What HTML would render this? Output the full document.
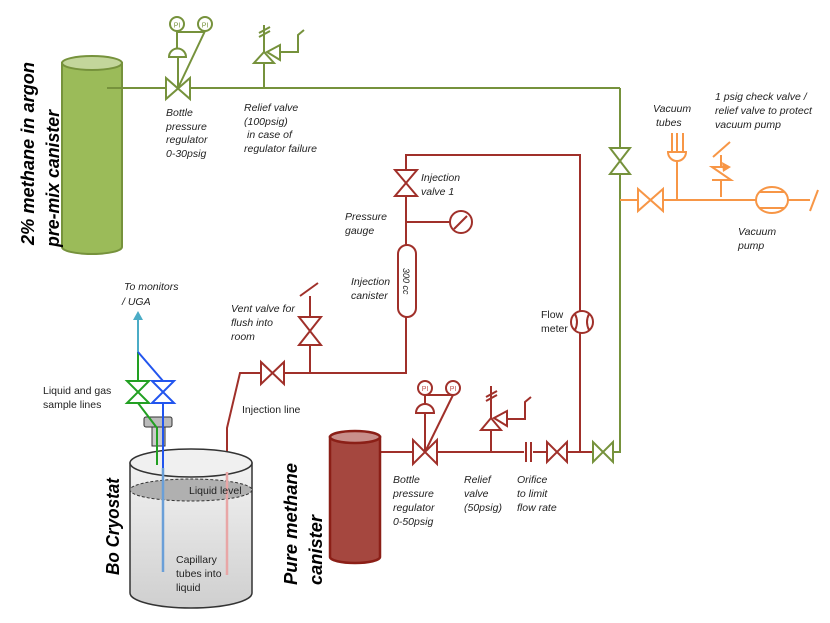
<!DOCTYPE html>
<html><head><meta charset="utf-8"><style>
html,body{margin:0;padding:0;background:#fff;}
svg{display:block;}
text{font-family:"Liberation Sans",sans-serif;font-size:10.5px;fill:#222;}
.i{font-style:italic;}
.t{font-weight:bold;font-style:italic;font-size:18px;fill:#000;}
</style></head><body>
<svg width="830" height="623" viewBox="0 0 830 623" xmlns="http://www.w3.org/2000/svg">
<defs>
<linearGradient id="cg" x1="0" y1="0" x2="0" y2="1"><stop offset="0" stop-color="#f2f2f2"/><stop offset="1" stop-color="#cfcfcf"/></linearGradient>
</defs>
<!-- GREEN SYSTEM -->
<g stroke="#76923c" stroke-width="2" fill="none">
<line x1="107" y1="88" x2="620" y2="88"/>
<line x1="620" y1="88" x2="620" y2="445"/>
<path d="M166,78 L166,99 L190,78 L190,99 Z" fill="#fff"/>
<line x1="178" y1="88" x2="178" y2="57"/>
<path d="M169,57 A8,8 0 0 1 186,57 Z" fill="#fff"/>
<line x1="177" y1="49" x2="177" y2="31"/>
<line x1="177" y1="32" x2="205" y2="32"/>
<line x1="205" y1="31" x2="178" y2="88"/>
<circle cx="177" cy="24" r="7" fill="#fff"/><circle cx="205" cy="24" r="7" fill="#fff"/>
<line x1="264" y1="88" x2="264" y2="63"/>
<path d="M254,63 L274,63 L264,52 Z" fill="#fff"/>
<path d="M267,52 L280,45 L280,60 Z" fill="#fff"/>
<polyline points="280,52 298,52 298,35 304,30"/>
<line x1="264" y1="52" x2="264" y2="25"/>
<line x1="259" y1="33" x2="270" y2="27"/><line x1="259" y1="37" x2="270" y2="31"/>
<path d="M610,148 L630,148 L610,174 L630,174 Z" fill="#fff"/>
</g>
<!-- green canister -->
<path d="M62,63 L62,247 A30,7 0 0 0 122,247 L122,63 Z" fill="#9bbb59" stroke="#76923c" stroke-width="2"/>
<ellipse cx="92" cy="63" rx="30" ry="7" fill="#c3d69b" stroke="#76923c" stroke-width="2"/>
<line x1="107" y1="88" x2="122" y2="88" stroke="#76923c" stroke-width="2"/>
<text x="177" y="27.5" text-anchor="middle" style="font-size:7px;fill:#76923c">PI</text>
<text x="205" y="27.5" text-anchor="middle" style="font-size:7px;fill:#76923c">PI</text>

<!-- ORANGE -->
<g stroke="#f79646" stroke-width="2" fill="none">
<line x1="620" y1="200" x2="810" y2="200"/>
<path d="M638,189 L638,211 L663,189 L663,211 Z" fill="#fff"/>
<line x1="677" y1="200" x2="677" y2="161"/>
<path d="M668,152 A9,9 0 0 0 686,152 Z" fill="#fff"/>
<line x1="672" y1="152" x2="672" y2="133"/><line x1="677" y1="152" x2="677" y2="133"/><line x1="683" y1="152" x2="683" y2="133"/>
<line x1="721" y1="197" x2="721" y2="180"/>
<polyline points="712,180 731,180 712,167 729,167"/>
<line x1="721" y1="167" x2="721" y2="155"/>
<line x1="713" y1="157" x2="730" y2="142"/>
<ellipse cx="772" cy="200" rx="16" ry="13" fill="#fff"/>
<line x1="760" y1="192" x2="784" y2="192"/><line x1="760" y1="208" x2="784" y2="208"/>
<line x1="810" y1="211" x2="818" y2="190"/>
</g>
<path d="M722,162 L731,167 L723,172 Z" fill="#f79646"/>

<!-- RED -->
<g stroke="#a0302a" stroke-width="2" fill="none">
<polyline points="406,245 406,155 580,155 580,452"/>
<path d="M395,170 L417,170 L395,196 L417,196 Z" fill="#fff"/>
<line x1="406" y1="222" x2="450" y2="222"/>
<circle cx="461" cy="222" r="11" fill="#fff"/>
<line x1="454" y1="229" x2="467" y2="216"/>
<rect x="398" y="245" width="18" height="72" rx="9" fill="#fff"/>
<polyline points="406,317 406,373 240,373 227,428 227,472"/>
<path d="M261,362 L261,384 L284,362 L284,384 Z" fill="#fff"/>
<line x1="310" y1="373" x2="310" y2="296"/>
<path d="M299,317 L321,317 L299,345 L321,345 Z" fill="#fff"/>
<line x1="300" y1="296" x2="318" y2="283"/>
<circle cx="582" cy="322" r="11" fill="#fff"/>
<path d="M575,314 Q579,322 575,330 M589,314 Q585,322 589,330"/>
<line x1="380" y1="452" x2="593" y2="452"/>
<path d="M413,440 L413,464 L437,440 L437,464 Z" fill="#fff"/>
<line x1="425" y1="452" x2="425" y2="413"/>
<path d="M416,413 A9,9 0 0 1 434,413 Z" fill="#fff"/>
<line x1="425" y1="405" x2="425" y2="395"/>
<line x1="425" y1="395" x2="453" y2="395"/>
<line x1="453" y1="395" x2="425" y2="452"/>
<circle cx="425" cy="388" r="7" fill="#fff"/><circle cx="453" cy="388" r="7" fill="#fff"/>
<line x1="491" y1="452" x2="491" y2="430"/>
<path d="M481,430 L501,430 L491,418 Z" fill="#fff"/>
<path d="M494,418 L507,411 L507,426 Z" fill="#fff"/>
<polyline points="507,419 525,419 525,402 531,397"/>
<line x1="491" y1="418" x2="491" y2="386"/>
<line x1="486" y1="397" x2="497" y2="391"/><line x1="486" y1="401" x2="497" y2="395"/>
<path d="M547,442 L547,462 L567,442 L567,462 Z" fill="#fff"/>
</g>
<rect x="524" y="442" width="9" height="20" fill="#fff"/>
<g stroke="#a0302a" stroke-width="2"><line x1="526" y1="442" x2="526" y2="462"/><line x1="531" y1="442" x2="531" y2="462"/></g>
<path d="M593,442 L593,462 L613,442 L613,462 Z" fill="#fff" stroke="#76923c" stroke-width="2"/>
<polyline points="613,452 620,452 620,440" fill="none" stroke="#76923c" stroke-width="2"/>
<text x="425" y="391" text-anchor="middle" style="font-size:7px;fill:#c0504d">PI</text>
<text x="453" y="391" text-anchor="middle" style="font-size:7px;fill:#c0504d">PI</text>
<text transform="translate(403,268) rotate(90)" class="i" style="font-size:9px">300 cc</text>
<!-- red canister -->
<path d="M330,437 L330,557 A25,6 0 0 0 380,557 L380,437 Z" fill="#a5473f" stroke="#8b1f17" stroke-width="2.5"/>
<ellipse cx="355" cy="437" rx="25" ry="6" fill="#c98f8b" stroke="#8b1f17" stroke-width="2.5"/>

<!-- CRYOSTAT -->
<path d="M130,463 L130,593 A61,15 0 0 0 252,593 L252,463 Z" fill="url(#cg)" stroke="#333" stroke-width="1.5"/>
<ellipse cx="191" cy="463" rx="61" ry="14" fill="#f0f0f0" stroke="#333" stroke-width="1.5"/>
<ellipse cx="191" cy="490" rx="61" ry="11" fill="#b0b0b0" stroke="#333" stroke-width="1" stroke-dasharray="3,2"/>
<rect x="152" y="427" width="13" height="19" fill="#ccc" stroke="#333"/>
<rect x="144" y="417" width="28" height="10" rx="2" fill="#bbb" stroke="#333"/>
<!-- sample lines -->
<line x1="138" y1="352" x2="138" y2="318" stroke="#4bacc6" stroke-width="2"/>
<path d="M133,320 L138,311 L143,320 Z" fill="#4bacc6"/>
<g stroke="#22a022" stroke-width="2" fill="none">
<line x1="138" y1="352" x2="138" y2="381"/>
<path d="M127,381 L149,381 L127,403 L149,403 Z" fill="#fff"/>
<polyline points="138,403 157,428 157,465"/>
</g>
<g stroke="#2255ee" stroke-width="2" fill="none">
<line x1="138" y1="352" x2="163" y2="381"/>
<path d="M152,381 L174,381 L152,403 L174,403 Z" fill="#fff"/>
<line x1="163" y1="403" x2="163" y2="468"/>
</g>
<line x1="163" y1="468" x2="163" y2="572" stroke="#6a9fd8" stroke-width="2.5"/>
<line x1="227" y1="472" x2="227" y2="575" stroke="#e8a6a6" stroke-width="2.5"/>

<!-- labels -->
<text class="t" transform="translate(34,245) rotate(-90)" textLength="183" lengthAdjust="spacingAndGlyphs">2% methane in argon</text>
<text class="t" transform="translate(59,247) rotate(-90)" textLength="137" lengthAdjust="spacingAndGlyphs">pre-mix canister</text>
<text class="t" transform="translate(119,575) rotate(-90)" textLength="97" lengthAdjust="spacingAndGlyphs">Bo Cryostat</text>
<text class="t" transform="translate(297,585) rotate(-90)" textLength="122" lengthAdjust="spacingAndGlyphs">Pure methane</text>
<text class="t" transform="translate(322,585) rotate(-90)" textLength="70" lengthAdjust="spacingAndGlyphs">canister</text>
<text class="i" x="166" y="116">Bottle</text><text class="i" x="166" y="130">pressure</text><text class="i" x="166" y="143">regulator</text><text class="i" x="166" y="157">0-30psig</text>
<text class="i" x="244" y="111">Relief valve</text><text class="i" x="244" y="125">(100psig)</text><text class="i" x="247" y="138">in case of</text><text class="i" x="244" y="152">regulator failure</text>
<text class="i" x="421" y="181">Injection</text><text class="i" x="421" y="195">valve 1</text>
<text class="i" x="345" y="220">Pressure</text><text class="i" x="345" y="234">gauge</text>
<text class="i" x="351" y="285">Injection</text><text class="i" x="351" y="299">canister</text>
<text x="541" y="318">Flow</text><text x="541" y="332">meter</text>
<text class="i" x="653" y="112">Vacuum</text><text class="i" x="656" y="126">tubes</text>
<text class="i" x="715" y="100">1 psig check valve /</text><text class="i" x="715" y="114">relief valve to protect</text><text class="i" x="715" y="128">vacuum pump</text>
<text class="i" x="738" y="235">Vacuum</text><text class="i" x="738" y="249">pump</text>
<text class="i" x="124" y="290">To monitors</text><text class="i" x="122" y="305">/ UGA</text>
<text class="i" x="231" y="312">Vent valve for</text><text class="i" x="231" y="326">flush into</text><text class="i" x="231" y="340">room</text>
<text x="43" y="394">Liquid and gas</text><text x="43" y="408">sample lines</text>
<text x="242" y="413">Injection line</text>
<text x="189" y="494">Liquid level</text>
<text x="176" y="563">Capillary</text><text x="176" y="577">tubes into</text><text x="176" y="591">liquid</text>
<text class="i" x="393" y="483">Bottle</text><text class="i" x="393" y="497">pressure</text><text class="i" x="393" y="511">regulator</text><text class="i" x="393" y="525">0-50psig</text>
<text class="i" x="464" y="483">Relief</text><text class="i" x="464" y="497">valve</text><text class="i" x="464" y="511">(50psig)</text>
<text class="i" x="517" y="483">Orifice</text><text class="i" x="517" y="497">to limit</text><text class="i" x="517" y="511">flow rate</text>
</svg>
</body></html>
